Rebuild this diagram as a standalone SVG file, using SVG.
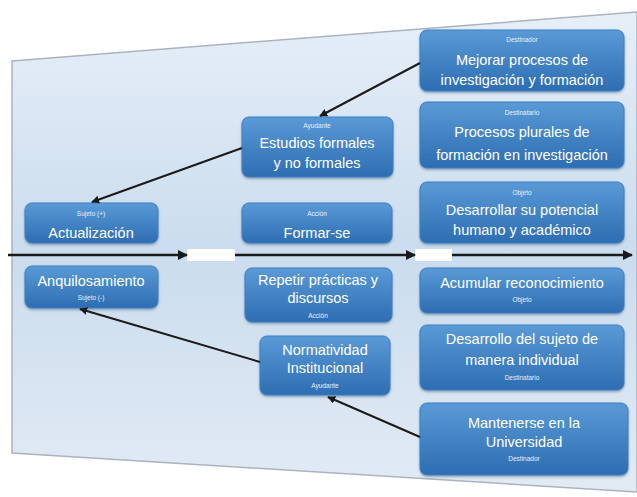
<svg xmlns="http://www.w3.org/2000/svg" width="637" height="497" viewBox="0 0 637 497">
<defs>
<linearGradient id="panel" x1="0" y1="0" x2="0" y2="1">
<stop offset="0" stop-color="#e6eff8"/>
<stop offset="0.5" stop-color="#cadcee"/>
<stop offset="1" stop-color="#e2ebf4"/>
</linearGradient>
<linearGradient id="box" x1="0" y1="0" x2="0" y2="1">
<stop offset="0" stop-color="#5a9ad6"/>
<stop offset="1" stop-color="#2d6db2"/>
</linearGradient>
<filter id="sh" x="-10%" y="-10%" width="120%" height="130%">
<feDropShadow dx="0" dy="1.5" stdDeviation="1.2" flood-color="#2a4a6a" flood-opacity="0.45"/>
</filter>
<marker id="ah" viewBox="0 0 10 10" refX="9" refY="5" markerWidth="4" markerHeight="4" orient="auto" markerUnits="strokeWidth">
<path d="M0,0 L10,5 L0,10 Z" fill="#1a1a1a"/>
</marker>
</defs>
<style>
.b{fill:url(#box);stroke:#3f7fc2;stroke-width:1;filter:url(#sh)}
.t{font-family:"Liberation Sans","Open Sans",sans-serif;font-size:14.5px;fill:#ffffff;text-anchor:middle}
.s{font-family:"Liberation Sans","Open Sans",sans-serif;font-size:6.5px;fill:#e8f0fa;text-anchor:middle}
.c{stroke:#1a1a1a;fill:none;marker-end:url(#ah)}
.h{stroke-width:2.5}
.d{stroke-width:2}
</style>
<rect width="637" height="497" fill="#ffffff"/>
<path d="M12,61 L637,12 L637,492 L12,453 Z" fill="url(#panel)" stroke="#aab4be" stroke-width="1.5"/>
<rect x="187" y="249" width="48" height="12" fill="#ffffff"/>
<rect x="415" y="249" width="37" height="12" fill="#ffffff"/>

<g id="n1"><rect class="b" x="420" y="30" width="204" height="61" rx="7"/>
<text class="s" x="522" y="42">Destinador</text>
<text class="t" x="522" y="65">Mejorar procesos de</text>
<text class="t" x="522" y="85">investigación y formación</text></g>

<g id="n2"><rect class="b" x="420" y="102" width="204" height="66" rx="7"/>
<text class="s" x="522" y="115">Destinatario</text>
<text class="t" x="522" y="137">Procesos plurales de</text>
<text class="t" x="522" y="160">formación en investigación</text></g>

<g id="n3"><rect class="b" x="420" y="182" width="204" height="61" rx="7"/>
<text class="s" x="522" y="195">Objeto</text>
<text class="t" x="522" y="215">Desarrollar su potencial</text>
<text class="t" x="522" y="235">humano y académico</text></g>

<g id="n4"><rect class="b" x="242" y="117" width="151" height="60" rx="7"/>
<text class="s" x="317" y="128">Ayudante</text>
<text class="t" x="317" y="148">Estudios formales</text>
<text class="t" x="317" y="168">y no formales</text></g>

<g id="n5"><rect class="b" x="25" y="203" width="133" height="40" rx="7"/>
<text class="s" x="91" y="216">Sujeto (+)</text>
<text class="t" x="91" y="238">Actualización</text></g>

<g id="n6"><rect class="b" x="242" y="203" width="150" height="40" rx="7"/>
<text class="s" x="317" y="216">Acción</text>
<text class="t" x="317" y="238">Formar-se</text></g>

<g id="n7"><rect class="b" x="25" y="266" width="133" height="42" rx="7"/>
<text class="t" x="91" y="286">Anquilosamiento</text>
<text class="s" x="91" y="300">Sujeto (-)</text></g>

<g id="n8"><rect class="b" x="245" y="268" width="147" height="54" rx="7"/>
<text class="t" x="318" y="285">Repetir prácticas y</text>
<text class="t" x="318" y="303">discursos</text>
<text class="s" x="318" y="318">Acción</text></g>

<g id="n9"><rect class="b" x="420" y="268" width="204" height="45" rx="7"/>
<text class="t" x="522" y="288">Acumular reconocimiento</text>
<text class="s" x="522" y="302">Objeto</text></g>

<g id="n10"><rect class="b" x="420" y="325" width="204" height="65" rx="7"/>
<text class="t" x="522" y="344">Desarrollo del sujeto de</text>
<text class="t" x="522" y="365">manera individual</text>
<text class="s" x="522" y="380">Destinatario</text></g>

<g id="n11"><rect class="b" x="260" y="336" width="130" height="59" rx="7"/>
<text class="t" x="325" y="355">Normatividad</text>
<text class="t" x="325" y="373">Institucional</text>
<text class="s" x="325" y="388">Ayudante</text></g>

<g id="n12"><rect class="b" x="420" y="403" width="208" height="72" rx="7"/>
<text class="t" x="524" y="428">Mantenerse en la</text>
<text class="t" x="524" y="447">Universidad</text>
<text class="s" x="524" y="461">Destinador</text></g>

<g id="connectors">
<line class="c h" x1="8" y1="255" x2="187" y2="255"/>
<line class="c h" x1="235" y1="255" x2="415" y2="255"/>
<line class="c h" x1="452" y1="255" x2="632" y2="255"/>
<line class="c d" x1="420" y1="63" x2="320" y2="116"/>
<line class="c d" x1="242" y1="148" x2="92" y2="202"/>
<line class="c d" x1="260" y1="362" x2="80" y2="309"/>
<line class="c d" x1="420" y1="437" x2="328" y2="397"/>
</g>
</svg>
